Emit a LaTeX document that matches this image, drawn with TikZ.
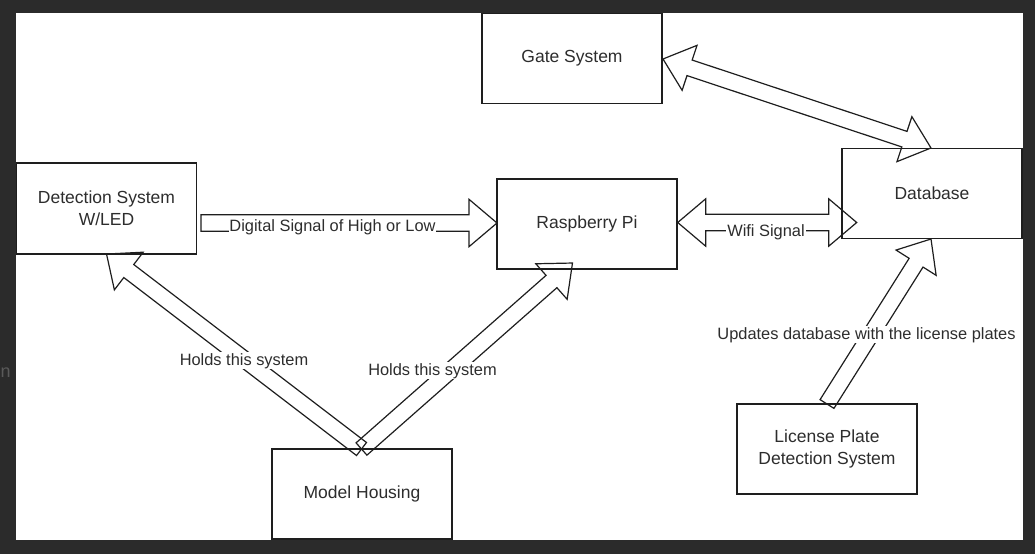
\documentclass[tikz,border=0pt]{standalone}
\usepackage{fontspec}
\setmainfont{Liberation Sans}
\usetikzlibrary{calc}
\definecolor{darkbg}{RGB}{43,43,43}
\definecolor{ink}{RGB}{30,30,30}
\definecolor{txt}{RGB}{45,45,45}
\tikzset{
  box/.style={draw=ink, line width=1.3pt, minimum width=180pt, minimum height=90pt,
    inner sep=0pt, align=center, text=txt, font=\fontsize{17.5}{21.7}\selectfont},
  flexline/.style={draw=ink, line width=1.2pt, line join=miter},
  lbl/.style={fill=white, inner sep=0.8pt, text=txt, font=\fontsize{16.4}{19}\selectfont, anchor=base},
}
\newcommand\flexW{8.2}
\newcommand\flexH{23.7}
\newcommand\flexL{28}
% #1 start coordinate, #2 end coordinate, #3 = 1 double headed, 0 single
\newcommand\flexarrow[3]{%
  \pgfmathanglebetweenpoints{\pgfpointanchor{#1}{center}}{\pgfpointanchor{#2}{center}}%
  \let\faang\pgfmathresult
  \pgfpointdiff{\pgfpointanchor{#1}{center}}{\pgfpointanchor{#2}{center}}%
  \pgfgetlastxy{\fadx}{\fady}%
  \pgfmathsetmacro\falen{veclen(\fadx,\fady)}%
  \begin{scope}[shift={(#1)}, rotate=\faang]
    \ifnum#3=1
      \draw[flexline] (\flexL,-\flexW) -- ({\falen-\flexL},-\flexW) -- ({\falen-\flexL},-\flexH)
        -- (\falen,0) -- ({\falen-\flexL},\flexH) -- ({\falen-\flexL},\flexW) -- (\flexL,\flexW)
        -- (\flexL,\flexH) -- (0,0) -- (\flexL,-\flexH) -- cycle;
    \else
      \draw[flexline] (0,-\flexW) -- ({\falen-\flexL},-\flexW) -- ({\falen-\flexL},-\flexH)
        -- (\falen,0) -- ({\falen-\flexL},\flexH) -- ({\falen-\flexL},\flexW) -- (0,\flexW) -- cycle;
    \fi
  \end{scope}}
\begin{document}
\begin{tikzpicture}[x=1pt, y=-1pt]
  \useasboundingbox (0,0) rectangle (1035,554);
  \fill[darkbg] (0,0) rectangle (1035,554);
  \node[text=gray!55!darkbg, font=\fontsize{18}{22}\selectfont, anchor=base west, inner sep=0pt] (artn) at (0.5,377) {n};
  \fill[white] (16,13) rectangle (1023,540);

  % boxes
  \node[box] (gate) at (572,58.5) {Gate System};
  \node[box, minimum height=91pt] (det) at (106.5,208.5) {Detection System\\W/LED};
  \node[box] (pi) at (587,224) {Raspberry Pi};
  \node[box] (db) at (932,193.5) {Database};
  \node[box] (mh) at (362,494) {Model Housing};
  \node[box] (lp) at (827,449) {License Plate\\Detection System};

  % connector end points
  \coordinate (g1) at (663,59);
  \coordinate (g2) at (931,148);
  \coordinate (d1) at (201,223);
  \coordinate (d2) at (497,223);
  \coordinate (w1) at (677.7,222.5);
  \coordinate (w2) at (856.7,222.5);
  \coordinate (m0) at (361.5,449);
  \coordinate (m1) at (106.5,254);
  \coordinate (m2) at (572.5,263);
  \coordinate (l1) at (827,404);
  \coordinate (l2) at (931,239);

  % connectors
  \flexarrow{g1}{g2}{1}
  \flexarrow{d1}{d2}{0}
  \flexarrow{w1}{w2}{1}
  \flexarrow{m0}{m1}{0}
  \flexarrow{m0}{m2}{0}
  \flexarrow{l1}{l2}{0}

  % labels
  \node[lbl] (ldig) at (332.5,231) {Digital Signal of High or Low};
  \node[lbl] (lwifi) at (766,236.5) {Wifi Signal};
  \node[lbl] (lh1) at (244,365) {Holds this system};
  \node[lbl] (lh2) at (432.5,375) {Holds this system};
  \node[lbl] (lupd) at (866.5,339) {Updates database with the license plates};
\end{tikzpicture}
\end{document}
